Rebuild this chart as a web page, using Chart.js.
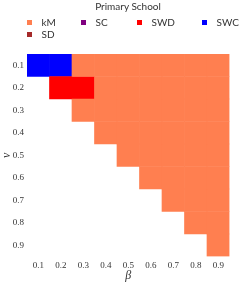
<!DOCTYPE html>
<html><head><meta charset="utf-8">
<script src="https://cdn.jsdelivr.net/npm/chart.js@4/dist/chart.umd.min.js"></script>
<style>
html,body{margin:0;padding:0;background:#fff;}
#wrap{position:relative;width:249px;height:283px;overflow:hidden;}
#c{position:absolute;left:0;top:0;}
#ltitle{position:absolute;left:0;width:256px;top:0;text-align:center;font-family:Lato,sans-serif;font-size:10px;line-height:12px;color:#333;}
#legend{position:absolute;left:27px;top:16px;display:grid;grid-template-columns:54px 56px 65px 47px;grid-auto-rows:12px;font-family:Lato,sans-serif;font-size:10px;color:#333;}
.item{display:flex;align-items:center;white-space:nowrap;}
.box{width:5px;height:5px;margin-right:9.5px;flex:none;}
</style>
</head><body>
<div id="wrap">
<canvas id="c" width="249" height="283"></canvas>
<div id="ltitle">Primary School</div>
<div id="legend"></div>
</div>
<script>
// ---- data ----
const betaLabels = ['0.1','0.2','0.3','0.4','0.5','0.6','0.7','0.8','0.9'];
const nuValues = [0.1,0.2,0.3,0.4,0.5,0.6,0.7,0.8,0.9];
const methods = ['kM','SC','SWD','SWC','SD'];
// best method per cell: rows = nu, columns = beta ('' = no value)
const cellMethod = [
  ['SWC','SWC','kM','kM','kM','kM','kM','kM','kM'],
  ['','SWD','SWD','kM','kM','kM','kM','kM','kM'],
  ['','','kM','kM','kM','kM','kM','kM','kM'],
  ['','','','kM','kM','kM','kM','kM','kM'],
  ['','','','','kM','kM','kM','kM','kM'],
  ['','','','','','kM','kM','kM','kM'],
  ['','','','','','','kM','kM','kM'],
  ['','','','','','','','kM','kM'],
  ['','','','','','','','','kM']
];
const legendTitle = 'Primary School';
const xTitle = 'β';
const yTitle = 'ν';

// ---- styles ----
const methodColors = {kM:'#FF7F50', SC:'#800080', SWD:'#FF0000', SWC:'#0000FF', SD:'#A52A2A'};

// legend (HTML)
document.getElementById('ltitle').textContent = legendTitle;
const lg = document.getElementById('legend');
methods.forEach(m => {
  const it = document.createElement('div'); it.className = 'item';
  const b = document.createElement('span'); b.className = 'box'; b.style.background = methodColors[m];
  const t = document.createElement('span'); t.textContent = m;
  it.appendChild(b); it.appendChild(t); lg.appendChild(it);
});

const half = 0.05;
const datasets = [];
methods.forEach(m => {
  nuValues.forEach((nu, r) => {
    const data = betaLabels.map((b, c) => cellMethod[r][c] === m ? [nu - half, nu + half] : null);
    if (data.some(d => d !== null)) {
      datasets.push({label: m, data, backgroundColor: methodColors[m], borderWidth: 0,
        categoryPercentage: 1, barPercentage: 1, grouped: false});
    }
  });
});

new Chart(document.getElementById('c'), {
  type: 'bar',
  data: {labels: betaLabels, datasets},
  options: {
    responsive: false, animation: false, events: [],
    layout: {padding: {top: 54, right: 19.5, bottom: 0, left: 0}},
    plugins: {legend: {display: false}, tooltip: {enabled: false}},
    scales: {
      x: {
        type: 'category',
        grid: {display: false, drawTicks: false}, border: {display: false},
        ticks: {padding: 4, color: '#333', font: {family: 'Liberation Serif', size: 9}, maxRotation: 0},
        title: {display: true, text: xTitle, color: '#333', padding: {top: 0, bottom: 0},
          font: {family: 'Liberation Serif', size: 12, style: 'italic'}},
        afterFit: s => { s.height = 26.5; }
      },
      y: {
        type: 'linear', reverse: true, min: 0.05, max: 0.95,
        grid: {display: false, drawTicks: false}, border: {display: false},
        afterBuildTicks: s => { s.ticks = nuValues.map(v => ({value: v})); },
        ticks: {padding: 3, color: '#333', font: {family: 'Liberation Serif', size: 9},
          callback: v => v.toFixed(1)},
        title: {display: true, text: yTitle, color: '#333', padding: {top: 0, bottom: 0},
          font: {family: 'Liberation Serif', size: 12, style: 'italic'}},
        afterFit: s => { s.width = 27; }
      }
    }
  }
});
</script>
</body></html>
